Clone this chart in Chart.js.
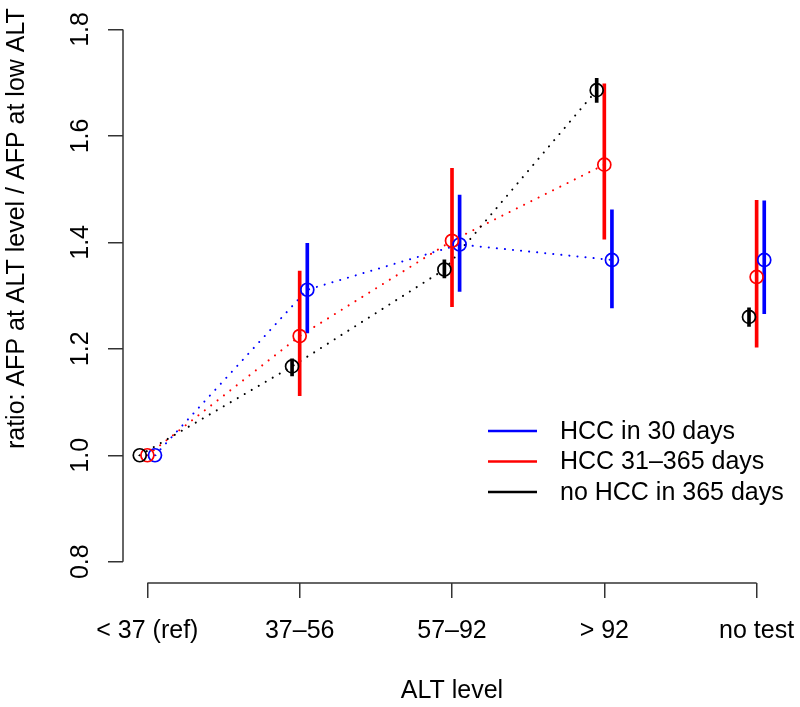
<!DOCTYPE html>
<html><head><meta charset="utf-8">
<script src="https://cdn.jsdelivr.net/npm/chart.js@4.4.0/dist/chart.umd.min.js"></script>
<style>html,body{margin:0;padding:0;background:#fff}#wrap{width:800px;height:707px}</style>
</head><body><div id="wrap"><canvas id="c" width="800" height="707"></canvas></div>
<script>
// ---- data ----
const categories = ['< 37 (ref)', '37–56', '57–92', '> 92', 'no test'];
const yTicks = [0.8, 1.0, 1.2, 1.4, 1.6, 1.8];
const seriesNames = ['HCC in 30 days', 'HCC 31–365 days', 'no HCC in 365 days'];

const hcc30    = [1.000, 1.311, 1.396, 1.367, 1.367];
const hcc30Lo  = [1.000, 1.230, 1.308, 1.277, 1.266];
const hcc30Hi  = [1.000, 1.398, 1.489, 1.461, 1.478];

const hcc365   = [1.000, 1.224, 1.403, 1.546, 1.335];
const hcc365Lo = [1.000, 1.112, 1.279, 1.406, 1.203];
const hcc365Hi = [1.000, 1.346, 1.539, 1.698, 1.479];

const noHcc    = [1.000, 1.167, 1.349, 1.686, 1.260];
const noHccLo  = [1.000, 1.149, 1.333, 1.663, 1.242];
const noHccHi  = [1.000, 1.181, 1.367, 1.708, 1.277];

const connectedCount = 4; // categories joined by the dotted line

// ---- styling ----
const FONT = 'Liberation Sans, Arial, Helvetica, sans-serif';
const FS = 25;
const colors = ['#0000FF', '#FF0000', '#000000'];
const dodge = [0.05, 0, -0.05];
const series = [
  {name: seriesNames[0], v: hcc30, lo: hcc30Lo, hi: hcc30Hi},
  {name: seriesNames[1], v: hcc365, lo: hcc365Lo, hi: hcc365Hi},
  {name: seriesNames[2], v: noHcc, lo: noHccLo, hi: noHccHi}
];

const datasets = [];
series.forEach((s, k) => {
  const xs = s.v.map((_, i) => i + 1 + dodge[k]);
  datasets.push({
    type: 'scatter', label: s.name, order: 10 - k,
    data: xs.map((x, i) => ({x, y: s.v[i]})),
    pointStyle: 'circle', pointRadius: 6.5, pointBorderWidth: 1.7,
    pointBorderColor: colors[k], pointBackgroundColor: 'rgba(0,0,0,0)', showLine: false
  });
  datasets.push({
    type: 'bar', label: s.name + ' CI', order: 20 - k, grouped: false,
    data: xs.map((x, i) => ({x, y: [s.lo[i], s.hi[i]]})),
    backgroundColor: colors[k], borderWidth: 0, barThickness: 3
  });
  datasets.push({
    type: 'line', label: s.name + ' trend', order: 30 - k,
    data: xs.slice(0, connectedCount).map((x, i) => ({x, y: s.v[i]})),
    borderColor: colors[k], borderWidth: 2, borderDash: [0.1, 8], borderCapStyle: 'round',
    pointRadius: 0, fill: false, tension: 0
  });
});

const noPad = s => { s.paddingTop = 0; s.paddingBottom = 0; s.paddingLeft = 0; s.paddingRight = 0; };

const rPlugin = {
  id: 'rStyle',
  beforeDraw(chart) {
    const ctx = chart.ctx;
    ctx.save(); ctx.fillStyle = '#fff'; ctx.fillRect(0, 0, chart.width, chart.height); ctx.restore();
  },
  afterDraw(chart) {
    const {ctx, chartArea, scales: {x, y}} = chart;
    ctx.save();
    ctx.strokeStyle = '#333'; ctx.lineWidth = 1.5;
    ctx.beginPath();
    ctx.moveTo(x.getPixelForValue(1), chartArea.bottom);
    ctx.lineTo(x.getPixelForValue(categories.length), chartArea.bottom);
    ctx.stroke();
    ctx.beginPath();
    ctx.moveTo(chartArea.left, y.getPixelForValue(yTicks[0]));
    ctx.lineTo(chartArea.left, y.getPixelForValue(yTicks[yTicks.length - 1]));
    ctx.stroke();
    // legend (R style, no box)
    const lx0 = 488, lx1 = 537, tx = 560, ly0 = 431, dy = 30.5;
    ctx.font = FS + 'px ' + FONT; ctx.textBaseline = 'middle'; ctx.textAlign = 'left';
    series.forEach((s, k) => {
      const yy = ly0 + k * dy;
      ctx.strokeStyle = colors[k]; ctx.lineWidth = 2.5;
      ctx.beginPath(); ctx.moveTo(lx0, yy); ctx.lineTo(lx1, yy); ctx.stroke();
      ctx.fillStyle = '#000'; ctx.fillText(s.name, tx, yy + 1);
    });
    ctx.restore();
  }
};

new Chart(document.getElementById('c'), {
  type: 'scatter',
  data: {datasets},
  plugins: [rPlugin],
  options: {
    responsive: false, maintainAspectRatio: false, animation: false, events: [],
    layout: {padding: {top: 1, right: 19, bottom: 0, left: 0}},
    plugins: {legend: {display: false}, tooltip: {enabled: false}},
    scales: {
      x: {
        type: 'linear', min: 0.84, max: 5.16, offset: false,
        border: {display: false},
        grid: {drawOnChartArea: false, drawTicks: true, tickLength: 15, color: '#333', lineWidth: 1.5, offset: false},
        ticks: {autoSkip: false, minRotation: 0, maxRotation: 0, padding: 18, color: '#000',
                font: {family: FONT, size: FS}, callback: v => categories[Math.round(v) - 1] ?? ''},
        afterBuildTicks: s => { s.ticks = categories.map((c, i) => ({value: i + 1})); },
        title: {display: true, text: 'ALT level', color: '#000', font: {family: FONT, size: FS}, padding: {top: 0, bottom: 1}},
        afterFit: s => { s.height = 124; noPad(s); }
      },
      y: {
        type: 'linear', min: 0.76, max: 1.84, beginAtZero: false,
        border: {display: false},
        grid: {drawOnChartArea: false, drawTicks: true, tickLength: 15, color: '#333', lineWidth: 1.5},
        ticks: {autoSkip: false, minRotation: 90, maxRotation: 90, crossAlign: 'center', padding: 10, color: '#000',
                font: {family: FONT, size: FS}, callback: v => Number(v).toFixed(1)},
        afterBuildTicks: s => { s.ticks = yTicks.map(v => ({value: v})); },
        title: {display: true, align: 'end', text: 'ratio: AFP at ALT level / AFP at low ALT', color: '#000', font: {family: FONT, size: FS}, padding: {top: 2, bottom: 0}},
        afterFit: s => { s.width = 123; noPad(s); }
      }
    }
  }
});
</script>
</body></html>
